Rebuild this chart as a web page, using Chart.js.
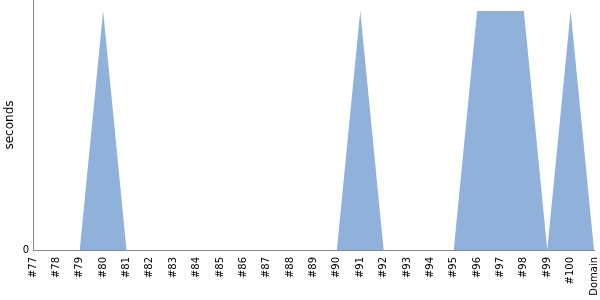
<!DOCTYPE html>
<html>
<head>
<meta charset="utf-8">
<script src="https://cdn.jsdelivr.net/npm/chart.js"></script>
<style>
  html, body { margin: 0; padding: 0; background: #fff; }
  #wrap { width: 600px; height: 300px; }
</style>
</head>
<body>
<div id="wrap"><canvas id="myChart"></canvas></div>
<script>
// build labels and values
const builds = ['#77', '#78', '#79', '#80', '#81', '#82', '#83', '#84', '#85', '#86', '#87', '#88',
                '#89', '#90', '#91', '#92', '#93', '#94', '#95', '#96', '#97', '#98', '#99', '#100', 'Domain'];
const seconds = [0, 0, 0, 1, 0, 0, 0, 0, 0, 0, 0, 0,
                 0, 0, 1, 0, 0, 0, 0, 1, 1, 1, 0, 1, 0];
const yTicks = [0];

Chart.defaults.font.family = 'DejaVu Sans';

const ctx = document.getElementById('myChart').getContext('2d');
const myChart = new Chart(ctx, {
    type: 'line',
    data: {
        labels: builds,
        datasets: [{
            data: seconds,
            fill: 'origin',
            backgroundColor: 'rgb(143,177,218)',
            borderWidth: 0,
            pointRadius: 0,
            tension: 0
        }]
    },
    options: {
        responsive: true,
        maintainAspectRatio: false,
        animation: false,
        layout: { padding: { top: 0, right: 6, left: 0, bottom: 0 } },
        plugins: { legend: { display: false }, tooltip: { enabled: false } },
        scales: {
            x: {
                offset: false,
                grid: { display: false, drawTicks: false },
                border: { color: '#888', width: 1 },
                ticks: {
                    color: '#000',
                    font: { size: 10 },
                    minRotation: 90,
                    maxRotation: 90,
                    autoSkip: false,
                    padding: 7
                },
                // no extra room for the end labels
                afterFit: axis => { axis.paddingLeft = 0; axis.paddingRight = 0; axis.height = 50; }
            },
            y: {
                min: 0,
                max: 1.046,
                grid: { display: false, drawTicks: false },
                border: { color: '#888', width: 1 },
                afterBuildTicks: axis => { axis.ticks = yTicks.map(v => ({ value: v })); },
                afterFit: axis => { axis.paddingTop = 0; axis.paddingBottom = 0; axis.width = 33; },
                ticks: { color: '#000', font: { size: 10 }, padding: 4 },
                title: { display: true, text: 'seconds', color: '#000', font: { size: 12 }, padding: { top: 3, bottom: 5 } }
            }
        }
    }
});
</script>
</body>
</html>
